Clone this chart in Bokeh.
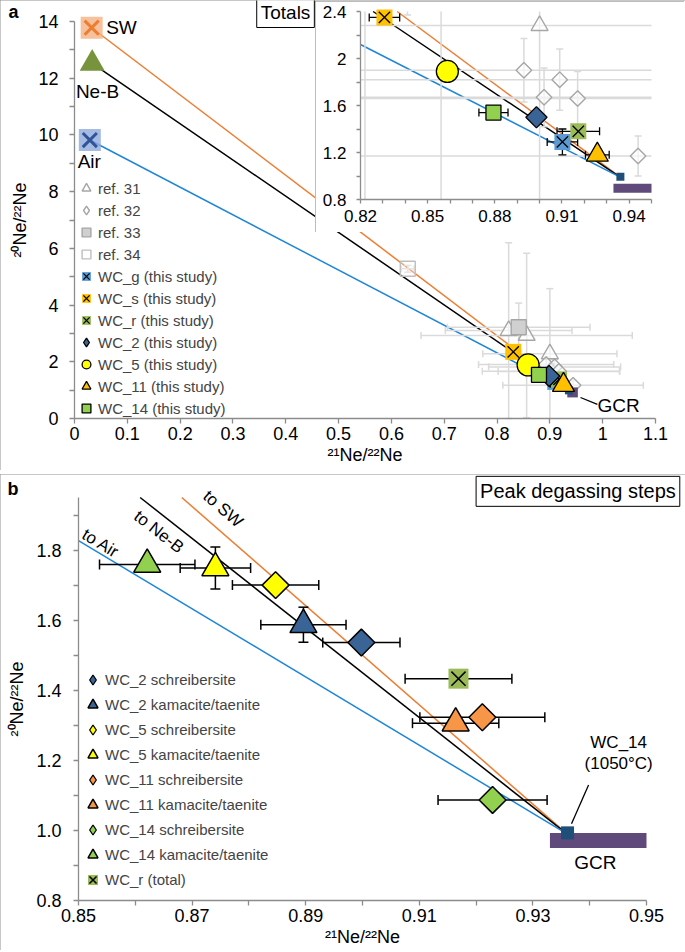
import math
from bokeh.plotting import figure
from bokeh.models import (Range1d, FixedTicker, CustomJSTickFormatter, Legend,
                          LegendItem, Label)
from bokeh.layouts import column
from bokeh.embed import file_html
from bokeh.resources import INLINE

FONT = "Liberation Sans"
NAN = float("nan")

# ======================= data =======================
# panel a - atmospheric / solar end-members
EM_NAMES = ["SW", "Ne-B", "Air"]
EM_X = [0.0325, 0.0335, 0.0290]
EM_Y = [13.78, 12.52, 9.82]

# cosmogenic end of the mixing lines (WC_14, 1050 degC step)
CONV_X = 0.936
CONV_Y = 0.99
STEP1050_X = [0.9361]
STEP1050_Y = [0.993]
GCR_X = [0.933, 0.953]

# literature data
REF31_X = [0.822, 0.856, 0.900]
REF31_Y = [3.10, 2.93, 2.28]
REF31_XERR = [0.12, 0.20, 0.127]
REF31_YERR = [3.10, 2.90, 2.30]
REF32_X = [0.893, 0.902, 0.909, 0.917, 0.944]
REF32_Y = [1.90, 1.67, 1.82, 1.66, 1.17]
REF32_XERR = [0.128, 0.13, 0.125, 0.115, 0.133]
REF32_YERR = [0.27, 0.25, 0.26, 0.23, 0.17]
REF33_X = [0.841]
REF33_Y = [3.22]
REF33_XERR = [0.135]
REF33_YERR = [0.85]
REF34_X = [0.631]
REF34_Y = [5.28]
REF34_XERR = [0.012]
REF34_YERR = [0.12]

# this study - totals
TOT_NAMES = ["WC_g", "WC_s", "WC_r", "WC_2", "WC_5", "WC_11", "WC_14"]
TOT_X = [0.9102, 0.8307, 0.9173, 0.8986, 0.8588, 0.9258, 0.8794]
TOT_Y = [1.29, 2.35, 1.38, 1.50, 1.89, 1.18, 1.54]
TOT_XERR = [0.0068, 0.0068, 0.0095, 0.0, 0.0, 0.0053, 0.0065]
TOT_YERR = [0.11, 0.0, 0.0, 0.0, 0.0, 0.0, 0.0]

# this study - peak degassing steps (panel b)
STEP_NAMES = ["WC_2 schreibersite", "WC_2 kamacite/taenite",
              "WC_5 schreibersite", "WC_5 kamacite/taenite",
              "WC_11 schreibersite", "WC_11 kamacite/taenite",
              "WC_14 schreibersite", "WC_14 kamacite/taenite",
              "WC_r (total)"]
STEP_X = [0.8998, 0.8896, 0.8847, 0.8741, 0.9211, 0.9164, 0.9229, 0.8621, 0.9169]
STEP_Y = [1.536, 1.587, 1.700, 1.749, 1.323, 1.306, 1.087, 1.759, 1.433]
STEP_XERR = [0.0068, 0.0075, 0.0076, 0.0062, 0.0110, 0.0076, 0.0096, 0.0084, 0.0094]
STEP_YERR = [0.0, 0.05, 0.0, 0.06, 0.0, 0.0, 0.0, 0.0, 0.0]

# ticks
A_XTICKS = [0, 0.1, 0.2, 0.3, 0.4, 0.5, 0.6, 0.7, 0.8, 0.9, 1.0, 1.1]
A_YTICKS = [0, 2, 4, 6, 8, 10, 12, 14]
A_YMINOR = [1, 3, 5, 7, 9, 11, 13]
IN_XTICKS = [0.82, 0.85, 0.88, 0.91, 0.94]
IN_XMINOR = [0.83, 0.84, 0.86, 0.87, 0.89, 0.90, 0.92, 0.93, 0.95]
IN_YTICKS = [0.8, 1.2, 1.6, 2.0, 2.4]
IN_YMINOR = [1.0, 1.4, 1.8, 2.2]
B_XTICKS = [0.85, 0.87, 0.89, 0.91, 0.93, 0.95]
B_XMINOR = [0.86, 0.88, 0.90, 0.92, 0.94]
B_YTICKS = [0.8, 1.0, 1.2, 1.4, 1.6, 1.8]
B_YMINOR = [0.9, 1.1, 1.3, 1.5, 1.7, 1.9]

# axis extents
A_X = (0, 1.1)
A_Y = (0, 14)
IN_X = (0.82, 0.95)
IN_Y = (0.8, 2.4)
B_X = (0.85, 0.95)
B_Y = (0.8, 1.95)

# ============================== styles ==============================
LINE_COLORS = {"SW": "#ED7D31", "Ne-B": "#000000", "Air": "#1F86D6"}
AXIS_GREY = "#8C8C8C"
REF_GREY = "#A6A6A6"
ERR_GREY = "#DADADA"
GCR_PURPLE = "#604A7B"
DARK_BLUE = "#1F4E79"

TOT_STYLE = {
    "WC_g": dict(marker="square", fill="#5B9BD5", cross=True, size=16, angle=0.0),
    "WC_s": dict(marker="square", fill="#FFC000", cross=True, size=16, angle=0.0),
    "WC_r": dict(marker="square", fill="#9BBB59", cross=True, size=16, angle=0.0),
    "WC_2": dict(marker="square", fill="#3B6496", cross=False, size=15, angle=math.pi / 4),
    "WC_5": dict(marker="circle", fill="#FFFF00", cross=False, size=22, angle=0.0),
    "WC_11": dict(marker="triangle", fill="#FFC000", cross=False, size=22, angle=0.0),
    "WC_14": dict(marker="square", fill="#92D050", cross=False, size=15, angle=0.0),
}
STEP_STYLE = [
    dict(marker="square", fill="#3B6496", angle=math.pi / 4, size=19, cross=False),
    dict(marker="triangle", fill="#3B6496", angle=0.0, size=27, cross=False),
    dict(marker="square", fill="#FFFF00", angle=math.pi / 4, size=19, cross=False),
    dict(marker="triangle", fill="#FFFF00", angle=0.0, size=27, cross=False),
    dict(marker="square", fill="#F79646", angle=math.pi / 4, size=19, cross=False),
    dict(marker="triangle", fill="#F79646", angle=0.0, size=27, cross=False),
    dict(marker="square", fill="#92D050", angle=math.pi / 4, size=19, cross=False),
    dict(marker="triangle", fill="#92D050", angle=0.0, size=27, cross=False),
    dict(marker="square", fill="#9BBB59", angle=0.0, size=20, cross=True),
]


# ============================ helpers ============================
def clip_seg(x0, y0, x1, y1, box):
    xmin, xmax, ymin, ymax = box
    dx, dy = x1 - x0, y1 - y0
    t0, t1 = 0.0, 1.0
    for pp, qq in ((-dx, x0 - xmin), (dx, xmax - x0), (-dy, y0 - ymin), (dy, ymax - y0)):
        if pp == 0:
            if qq < 0:
                return None
        else:
            t = qq / pp
            if pp < 0:
                if t > t1:
                    return None
                t0 = max(t0, t)
            else:
                if t < t0:
                    return None
                t1 = min(t1, t)
    return (x0 + t0 * dx, y0 + t0 * dy, x0 + t1 * dx, y0 + t1 * dy)


def inside(x, y, box, tol=1e-9):
    return box[0] - tol <= x <= box[1] + tol and box[2] - tol <= y <= box[3] + tol


class Panel:
    """A figure whose frame covers the whole canvas, so no text is ever cut;
    the axes are pinned to the edges of the data box and clipped with bounds."""

    def __init__(self, w, h, box, px_left, px_right, px_top, px_bottom, outline):
        self.box = box
        xmin, xmax, ymin, ymax = box
        sx = (px_right - px_left) / (xmax - xmin)
        sy = (px_bottom - px_top) / (ymax - ymin)
        x0 = xmin - px_left / sx
        x1 = xmin + (w - px_left) / sx
        y1 = ymax + px_top / sy
        y0 = ymax - (h - px_top) / sy
        p = figure(width=w, height=h, x_range=Range1d(x0, x1), y_range=Range1d(y0, y1),
                   output_backend="svg", toolbar_location=None,
                   min_border_left=0, min_border_right=0, min_border_top=0,
                   min_border_bottom=0)
        p.styles = {"outline": outline,
                    "outline-offset": "-" + outline.split("px")[0] + "px"}
        p.xgrid.visible = False
        p.ygrid.visible = False
        p.outline_line_color = None
        p.background_fill_color = "white"
        p.border_fill_color = "white"
        p.xaxis.bounds = (xmin, xmax)
        p.yaxis.bounds = (ymin, ymax)
        p.yaxis.fixed_location = xmin
        p.xaxis.fixed_location = ymin
        for ax in (p.xaxis[0], p.yaxis[0]):
            ax.axis_line_color = AXIS_GREY
            ax.axis_line_width = 1.3
            ax.major_tick_line_color = AXIS_GREY
            ax.minor_tick_line_color = AXIS_GREY
            ax.major_tick_line_width = 1.3
            ax.minor_tick_line_width = 1.3
            ax.major_tick_in = 0
            ax.major_tick_out = 5
            ax.minor_tick_in = 0
            ax.minor_tick_out = 5
            ax.major_label_text_font = FONT
            ax.major_label_text_color = "black"
            ax.axis_label_text_font = FONT
            ax.axis_label_text_font_style = "normal"
            ax.axis_label_text_color = "black"
        self.p = p

    def seg(self, x0, y0, x1, y1, **kw):
        xs0, ys0, xs1, ys1 = [], [], [], []
        for a, b, c, d in zip(x0, y0, x1, y1):
            r = clip_seg(a, b, c, d, self.box)
            if r:
                xs0.append(r[0]); ys0.append(r[1]); xs1.append(r[2]); ys1.append(r[3])
        return self.p.segment(x0=xs0, y0=ys0, x1=xs1, y1=ys1, **kw)

    def pts(self, xs, ys, **kw):
        keep = [(x, y) for x, y in zip(xs, ys) if inside(x, y, self.box)]
        return self.p.scatter(x=[k[0] for k in keep], y=[k[1] for k in keep], **kw)

    def err_bars(self, xs, ys, xe, ye, color, lw, cap):
        hx0, hx1, hy, vx, vy0, vy1 = [], [], [], [], [], []
        for x, y, ex, ey in zip(xs, ys, xe, ye):
            if ex > 0:
                hx0.append(x - ex); hx1.append(x + ex); hy.append(y)
            if ey > 0:
                vx.append(x); vy0.append(y - ey); vy1.append(y + ey)
        kw = dict(line_color=color, line_width=lw)
        if hx0:
            self.seg(hx0, hy, hx1, hy, **kw)
            self.pts(hx0 + hx1, hy + hy, marker="dash", angle=math.pi / 2, size=cap, **kw)
        if vx:
            self.seg(vx, vy0, vx, vy1, **kw)
            self.pts(vx + vx, vy0 + vy1, marker="dash", angle=0.0, size=cap, **kw)

    def mixing_lines(self):
        for n, x, y in zip(EM_NAMES, EM_X, EM_Y):
            self.seg([x], [y], [CONV_X], [CONV_Y], line_color=LINE_COLORS[n], line_width=1.5)

    def gcr(self, y, w):
        self.seg([GCR_X[0]], [y], [GCR_X[1]], [y], line_color=GCR_PURPLE, line_width=w,
                 line_cap="butt")

    def point(self, x, y, st, lw=1.3):
        s = st["size"]
        rs = []
        if st["cross"]:
            rs.append(self.pts(x, y, marker=st["marker"], size=s, angle=st["angle"],
                               fill_color=st["fill"], line_color=None))
            rs.append(self.pts(x, y, marker="x", size=s, line_color="black", line_width=lw))
        else:
            rs.append(self.pts(x, y, marker=st["marker"], size=s, angle=st["angle"],
                               fill_color=st["fill"], line_color="black", line_width=lw))
        return rs

    def legend_glyph(self, st, lw=1.3, line="black"):
        if st["angle"] != 0.0:
            return [self.p.scatter(x=[NAN], y=[NAN], marker="diamond", size=10,
                                   fill_color=st["fill"], line_color=line, line_width=lw)]
        return None


def draw_totals(P, gcr_y, gcr_w, small):
    P.mixing_lines()
    for xs, ys, xe, ye in ((REF31_X, REF31_Y, REF31_XERR, REF31_YERR),
                           (REF32_X, REF32_Y, REF32_XERR, REF32_YERR),
                           (REF33_X, REF33_Y, REF33_XERR, REF33_YERR),
                           (REF34_X, REF34_Y, REF34_XERR, REF34_YERR)):
        P.err_bars(xs, ys, xe, ye, ERR_GREY, 1.5, 7)
    refs = {}
    refs["ref. 31"] = [P.pts(REF31_X, REF31_Y, marker="triangle", size=17,
                             fill_color="white", fill_alpha=0.6,
                             line_color=REF_GREY, line_width=1.4)]
    P.pts(REF32_X, REF32_Y, marker="square", angle=math.pi / 4, size=11,
          fill_color="white", fill_alpha=0.6, line_color=REF_GREY, line_width=1.4)
    refs["ref. 32"] = [P.p.scatter(x=[NAN], y=[NAN], marker="diamond", size=10,
                                   fill_color="white", line_color=REF_GREY, line_width=1.4)]
    refs["ref. 33"] = [P.pts(REF33_X, REF33_Y, marker="square", size=15,
                             fill_color="#D0D0D0", line_color=REF_GREY, line_width=1.4)]
    refs["ref. 34"] = [P.pts(REF34_X, REF34_Y, marker="square", size=15,
                             fill_color="white", fill_alpha=0.3,
                             line_color="#BFBFBF", line_width=1.4)]
    P.gcr(gcr_y, gcr_w)
    P.pts(STEP1050_X, STEP1050_Y, marker="square", size=small, fill_color=DARK_BLUE,
          line_color=None)
    P.err_bars(TOT_X, TOT_Y, TOT_XERR, TOT_YERR, "black", 1.3, 8)
    tots = {}
    for n, x, y in zip(TOT_NAMES, TOT_X, TOT_Y):
        rs = P.point([x], [y], TOT_STYLE[n])
        lg = P.legend_glyph(TOT_STYLE[n])
        tots[n] = lg if lg else rs
    return refs, tots


lab_kw = dict(text_font=FONT, text_color="black")
FMT = "return (Math.round(tick*1000)/1000).toString()"

# ============================ panel a ============================
A = Panel(685, 470, A_X + A_Y, 74, 655, 21, 418, "2px solid #8F8F8F")
pa = A.p
pa.xaxis.ticker = FixedTicker(ticks=A_XTICKS)
pa.xaxis.formatter = CustomJSTickFormatter(code=FMT)
pa.yaxis.ticker = FixedTicker(ticks=A_YTICKS, minor_ticks=A_YMINOR)
pa.xaxis.major_label_text_font_size = "18px"
pa.yaxis.major_label_text_font_size = "18px"
pa.xaxis.major_label_standoff = 3
pa.yaxis.major_label_standoff = 11
pa.xaxis.axis_label = "\u00b2\u00b9Ne/\u00b2\u00b2Ne"
pa.yaxis.axis_label = "\u00b2\u2070Ne/\u00b2\u00b2Ne"
pa.xaxis.axis_label_text_font_size = "18px"
pa.yaxis.axis_label_text_font_size = "18px"
pa.xaxis.axis_label_standoff = 2
pa.yaxis.axis_label_standoff = 5

refs_a, tots_a = draw_totals(A, 0.92, 10, 8)

em_style = {
    "SW": dict(fill="#F4B183", xcol="#ED7D31"),
    "Air": dict(fill="#8FAADC", xcol="#2F5597"),
}
for n, x, y in zip(EM_NAMES, EM_X, EM_Y):
    if n == "Ne-B":
        A.pts([x], [y], marker="triangle", size=25, fill_color="#77933C", line_color=None)
    else:
        A.pts([x], [y], marker="square", size=22, fill_color=em_style[n]["fill"],
              fill_alpha=0.8, line_color=None)
        A.pts([x], [y], marker="x", size=20, line_color=em_style[n]["xcol"], line_width=3)

pa.add_layout(Label(x=0.060, y=13.80, text="SW", text_align="left", text_baseline="middle",
                    text_font_size="19px", **lab_kw))
pa.add_layout(Label(x=0.0436, y=11.52, text="Ne-B", text_align="center", text_baseline="middle",
                    text_font_size="19px", **lab_kw))
pa.add_layout(Label(x=0.028, y=9.05, text="Air", text_align="center", text_baseline="middle",
                    text_font_size="19px", **lab_kw))
pa.add_layout(Label(x=1.030, y=0.46, text="GCR", text_align="center", text_baseline="middle",
                    text_font_size="19px", **lab_kw))
pa.segment(x0=[0.958], y0=[0.74], x1=[0.990], y1=[0.495], line_color="black", line_width=1.3)
pa.add_layout(Label(x=-0.125, y=14.32, text="a", text_align="left", text_baseline="middle",
                    text_font_size="18px", text_font_style="bold", **lab_kw))
pa.add_layout(Label(x=0.345, y=14.30, text="Totals", text_align="left", text_baseline="middle",
                    text_font_size="19px", border_line_color="black", border_line_width=1,
                    background_fill_color="white", padding=4, **lab_kw))

items_a = [LegendItem(label=k, renderers=v) for k, v in refs_a.items()]
for n in TOT_NAMES:
    items_a.append(LegendItem(label=n + " (this study)", renderers=tots_a[n]))
leg_a = Legend(items=items_a, location=(75, 51), glyph_width=22, glyph_height=22,
               spacing=0, label_standoff=1, padding=0, margin=0,
               label_text_font=FONT, label_text_font_size="15px", label_height=22,
               background_fill_alpha=0, border_line_alpha=0)
pa.add_layout(leg_a)

# ============================ inset ============================
# canvas spans page x 315..684, y 1..232
IN = Panel(369, 231, IN_X + IN_Y, 45, 336, 10, 198, "1px solid #7A7A7A")
pin = IN.p
pin.xaxis.ticker = FixedTicker(ticks=IN_XTICKS, minor_ticks=IN_XMINOR)
pin.yaxis.ticker = FixedTicker(ticks=IN_YTICKS, minor_ticks=IN_YMINOR)
pin.yaxis.formatter = CustomJSTickFormatter(code=FMT)
pin.xaxis.major_label_text_font_size = "17px"
pin.yaxis.major_label_text_font_size = "17px"
pin.xaxis.major_label_standoff = 6
pin.yaxis.major_label_standoff = 10
for ax in (pin.xaxis[0], pin.yaxis[0]):
    ax.major_tick_out = 4
    ax.minor_tick_out = 4
draw_totals(IN, 0.895, 9, 8)
pin.margin = (-469, 0, 0, 315)

# ============================ panel b ============================
B = Panel(685, 476, B_X + B_Y, 78, 646, 23, 426, "2px solid #8F8F8F")
pb = B.p
pb.xaxis.ticker = FixedTicker(ticks=B_XTICKS, minor_ticks=B_XMINOR)
pb.yaxis.ticker = FixedTicker(ticks=B_YTICKS, minor_ticks=B_YMINOR)
pb.yaxis.formatter = CustomJSTickFormatter(code="return tick.toFixed(1)")
pb.xaxis.formatter = CustomJSTickFormatter(code="return tick.toFixed(2)")
pb.xaxis.major_label_text_font_size = "18px"
pb.yaxis.major_label_text_font_size = "18px"
pb.xaxis.major_label_standoff = 3
pb.yaxis.major_label_standoff = 12
pb.xaxis.axis_label = "\u00b2\u00b9Ne/\u00b2\u00b2Ne"
pb.yaxis.axis_label = "\u00b2\u2070Ne/\u00b2\u00b2Ne"
pb.xaxis.axis_label_text_font_size = "18px"
pb.yaxis.axis_label_text_font_size = "18px"
pb.xaxis.axis_label_standoff = 2
pb.yaxis.axis_label_standoff = 6

B.mixing_lines()
B.gcr(0.971, 15)
B.pts(STEP1050_X, STEP1050_Y, marker="square", size=13, fill_color=DARK_BLUE, line_color=None)
B.err_bars(STEP_X, STEP_Y, STEP_XERR, STEP_YERR, "black", 1.5, 10)
items_b = []
for n, x, y, st in zip(STEP_NAMES, STEP_X, STEP_Y, STEP_STYLE):
    rs = B.point([x], [y], st, lw=1.5)
    lg = B.legend_glyph(st, lw=1.3)
    items_b.append(LegendItem(label=n, renderers=lg if lg else rs))

px_per_x = 568 / 0.10
px_per_y = 403 / 1.15
rot_pos = {"Air": (0.85088, 1.8483), "Ne-B": (0.86016, 1.9026), "SW": (0.87239, 1.9608)}
for n, x, y in zip(EM_NAMES, EM_X, EM_Y):
    slope = (y - CONV_Y) / (x - CONV_X)
    ang = math.atan(slope * px_per_y / px_per_x)
    lx, ly = rot_pos[n]
    pb.add_layout(Label(x=lx, y=ly, text="to " + n, angle=ang, text_align="left",
                        text_baseline="alphabetic", text_font_size="17px", **lab_kw))

pb.add_layout(Label(x=0.941, y=0.908, text="GCR", text_align="center", text_baseline="middle",
                    text_font_size="19px", **lab_kw))
pb.add_layout(Label(x=0.9451, y=1.252, text="WC_14", text_align="center", text_baseline="middle",
                    text_font_size="17px", **lab_kw))
pb.add_layout(Label(x=0.9451, y=1.192, text="(1050\u00b0C)", text_align="center",
                    text_baseline="middle", text_font_size="17px", **lab_kw))
pb.segment(x0=[0.9398], y0=[1.1295], x1=[0.9368], y1=[1.0188], line_color="black",
           line_width=1.3)
pb.add_layout(Label(x=0.8375, y=1.973, text="b", text_align="left", text_baseline="middle",
                    text_font_size="18px", text_font_style="bold", **lab_kw))
pb.add_layout(Label(x=0.9200, y=1.9676, text="Peak degassing steps", text_align="left",
                    text_baseline="middle", text_font_size="20px", border_line_color="black",
                    border_line_width=1, background_fill_color="white", padding=4, **lab_kw))

leg_b = Legend(items=items_b, location=(80, 58), glyph_width=25, glyph_height=25,
               spacing=0, label_standoff=0, padding=0, margin=0,
               label_text_font=FONT, label_text_font_size="15px", label_height=25,
               background_fill_alpha=0, border_line_alpha=0)
pb.add_layout(leg_b)
pb.margin = (242, 0, 0, 0)

root = column(pa, pin, pb)

open("out.html", "w").write(file_html(root, INLINE))
